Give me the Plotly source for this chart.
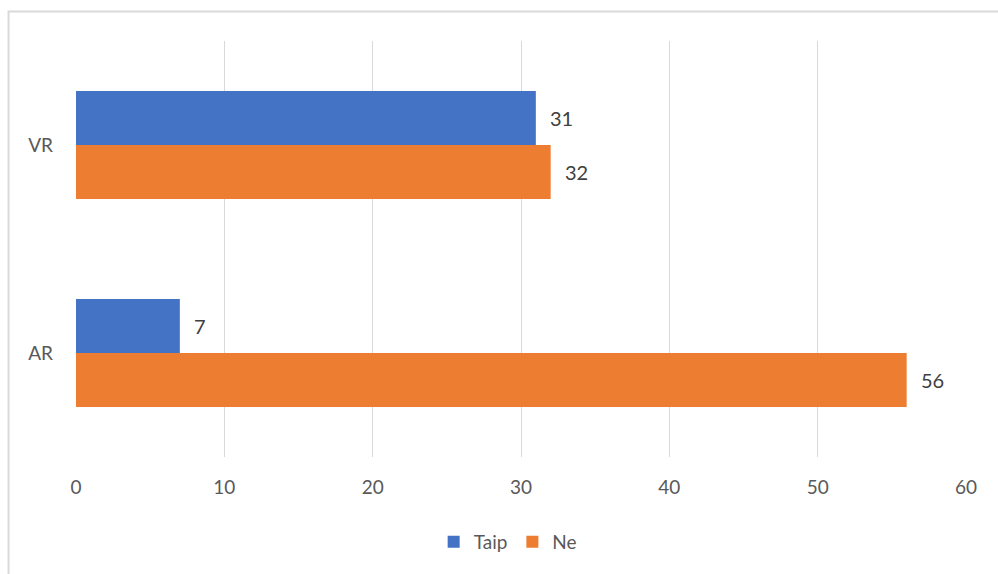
import plotly.graph_objects as go

categories = ["VR", "AR"]
taip = [31, 7]
ne = [32, 56]
x_ticks = [0, 10, 20, 30, 40, 50, 60]

BLUE = "#4472C4"
ORANGE = "#ED7D31"
FONT = "Lato, Open Sans, sans-serif"

fig = go.Figure()
fig.add_trace(go.Bar(y=categories, x=taip, name="Taip", orientation="h",
                     marker=dict(color=BLUE, line=dict(width=0))))
fig.add_trace(go.Bar(y=categories, x=ne, name="Ne", orientation="h",
                     marker=dict(color=ORANGE, line=dict(width=0))))

annotations = []
for series, shift in ((taip, 27), (ne, -27)):
    for cat, v in zip(categories, series):
        annotations.append(dict(x=v, y=cat, xref="x", yref="y", text=str(v),
                                showarrow=False, xanchor="left", xshift=12,
                                yshift=shift,
                                font=dict(family=FONT, size=20, color="#404040")))

fig.update_layout(
    width=998, height=574,
    margin=dict(l=76, r=32, t=41, b=117),
    paper_bgcolor="white", plot_bgcolor="white",
    barmode="group", bargap=0.48, bargroupgap=0,
    font=dict(family=FONT, size=19, color="#595959"),
    xaxis=dict(range=[0, 60], tickvals=x_ticks, showgrid=True,
               gridcolor="#D9D9D9", gridwidth=1, zeroline=False,
               showline=False, ticks="", ticklabelstandoff=17,
               tickfont=dict(size=19, color="#595959")),
    yaxis=dict(autorange="reversed", showgrid=False, zeroline=False,
               showline=False, ticks="", ticklabelstandoff=22,
               tickfont=dict(size=19, color="#595959")),
    legend=dict(orientation="h", x=0.485, xanchor="center", y=-0.204,
                yanchor="middle", font=dict(size=19, color="#595959"),
                itemwidth=30),
    annotations=annotations,
    shapes=[dict(type="path", xref="paper", yref="paper",
                 path="M -0.0758,-0.4 L -0.0758,1.0709 L 1.1,1.0709",
                 line=dict(color="#D9D9D9", width=2))],
)

fig.write_html("out.html")
